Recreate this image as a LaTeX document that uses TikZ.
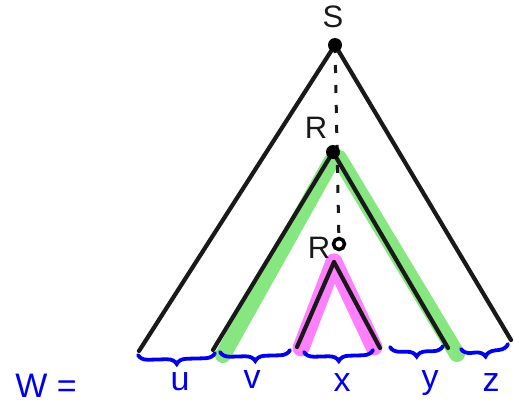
\documentclass[tikz,border=0pt]{standalone}
\usepackage{fontspec}
\setmainfont{Liberation Sans}
\usetikzlibrary{decorations.pathreplacing}
\definecolor{hlgreen}{RGB}{134,230,128}
\definecolor{hlpink}{RGB}{255,128,255}
\definecolor{penblue}{RGB}{0,0,235}
\tikzset{
  edge/.style={draw=black!90, line width=4.2pt, line cap=round},
  greenband/.style={draw=hlgreen, line width=16pt, line cap=round},
  pinkband/.style={draw=hlpink, line width=17pt, line cap=round},
  dot/.style={circle, fill=black, inner sep=0pt, minimum size=14pt},
  hollowdot/.style={circle, draw=black, line width=3.5pt, fill=white, inner sep=0pt, minimum size=11pt},
  lbl/.style={font=\fontsize{31}{34}\selectfont, text=black!90, inner sep=0pt},
  blbl/.style={font=\fontsize{34}{38}\selectfont, text=penblue, inner sep=0pt},
  seg/.style={decorate, decoration={brace, mirror, amplitude=10pt}, draw=penblue, line width=3.8pt, line cap=round},
  spine/.style={draw=black!90, line width=3pt, dash pattern=on 8pt off 12pt}
}
\begin{document}
\begin{tikzpicture}[x=1pt,y=-1pt]
\useasboundingbox (0,0) rectangle (514,407);
% key points
\coordinate (S) at (335,45);
\coordinate (R) at (333,152);
\coordinate (Rp) at (339,244);
\coordinate (A) at (334,262);
\coordinate (OL) at (139,351);
\coordinate (OR) at (511,340);
\coordinate (GL) at (213,350);
\coordinate (GR) at (448,348);
\coordinate (GLb) at (223,355);
\coordinate (GRb) at (457,354);
\coordinate (GLt) at (331,162);
\coordinate (GRt) at (339,158);
\coordinate (PL) at (297,347);
\coordinate (PR) at (380,348);
\coordinate (PLb) at (301,348);
\coordinate (PRb) at (374,347);
% highlight bands
\draw[greenband] (GLt) -- (GLb);
\draw[greenband] (GRt) -- (GRb);
\draw[pinkband] (A) -- (PLb);
\draw[pinkband] (A) -- (PRb);
% dashed spine
\draw[spine] (S) -- (Rp);
% tree edges
\draw[edge] (S) -- (OL);
\draw[edge] (S) -- (OR);
\draw[edge] (R) -- (GL);
\draw[edge] (R) -- (GR);
\draw[edge] (A) -- (PL);
\draw[edge] (A) -- (PR);
% dots
\node[dot] (Sd) at (S) {};
\node[dot] (Rd) at (R) {};
\node[hollowdot] (Rpd) at (Rp) {};
% labels
\node[lbl] (Sl) at (333,17) {S};
\node[lbl] (Rl) at (316,128) {R};
\node[lbl] (Rpl) at (319,248) {R};
% braces
\coordinate (u1) at (138,355);
\coordinate (u2) at (215,353);
\coordinate (v1) at (220,352);
\coordinate (v2) at (290,350);
\coordinate (x1) at (304,352);
\coordinate (x2) at (373,350);
\coordinate (y1) at (390,347);
\coordinate (y2) at (443,346);
\coordinate (z1) at (461,349);
\coordinate (z2) at (508,344);
\draw[seg] (u1) -- (u2);
\draw[seg] (v1) -- (v2);
\draw[seg] (x1) -- (x2);
\draw[seg] (y1) -- (y2);
\draw[seg] (z1) -- (z2);
\node[blbl] (W) at (46,386) {W =};
\node[blbl] (ul) at (180,382) {u};
\node[blbl] (vl) at (252,380) {v};
\node[blbl] (xl) at (342,383) {x};
\node[blbl] (yl) at (430,383) {y};
\node[blbl] (zl) at (491,383) {z};
\end{tikzpicture}
\end{document}
